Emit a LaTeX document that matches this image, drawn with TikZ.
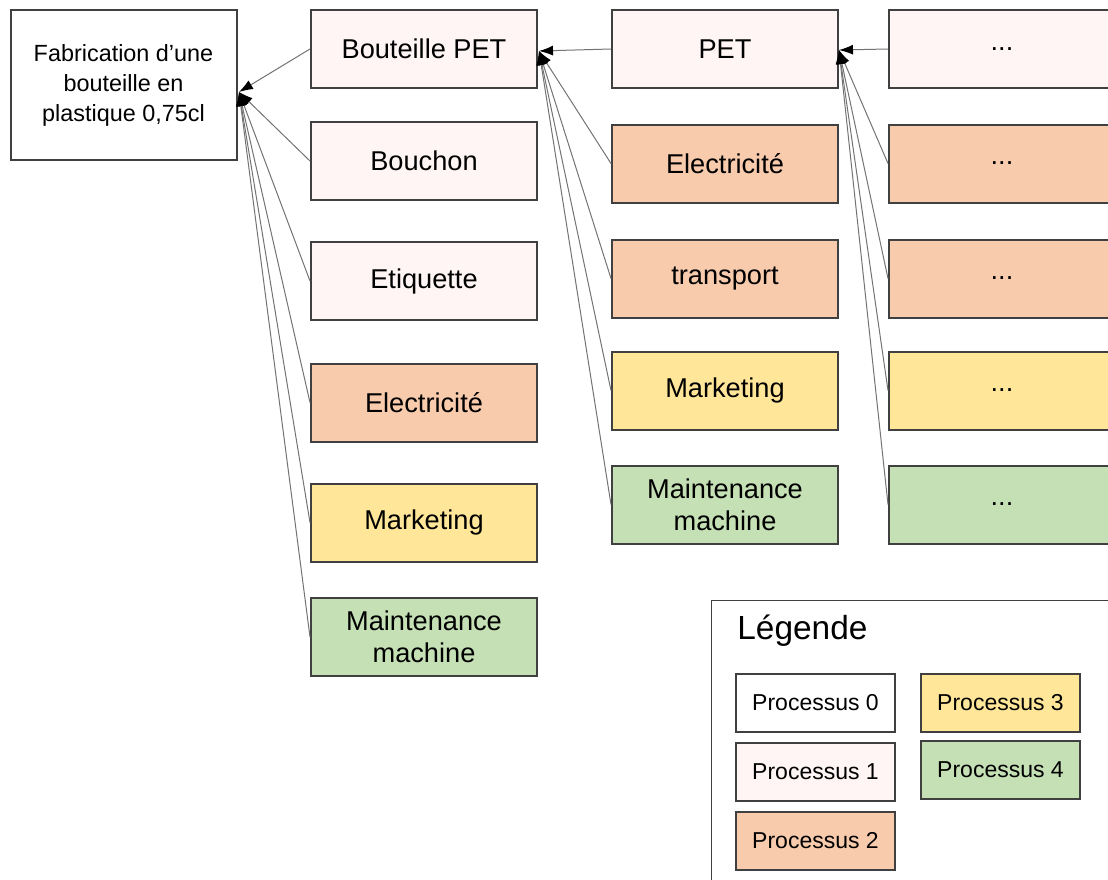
\documentclass[tikz,border=0pt]{standalone}
\usepackage{fontspec}
\setmainfont{Liberation Sans}
\usetikzlibrary{arrows.meta}
\definecolor{pun}{HTML}{FFF5F5}
\definecolor{pdeux}{HTML}{F8CBAD}
\definecolor{ptrois}{HTML}{FFE699}
\definecolor{pquatre}{HTML}{C5E0B4}
\tikzset{box/.style={draw=black!75,line width=1pt,minimum width=113pt,minimum height=39pt,align=center,inner sep=2pt,font=\fontsize{13.6}{16}\selectfont},
 p0/.style={box,fill=white},p1/.style={box,fill=pun},p2/.style={box,fill=pdeux},
 p3/.style={box,fill=ptrois},p4/.style={box,fill=pquatre},
 leg/.style={minimum width=79.5pt,minimum height=29pt,font=\fontsize{11.5}{14}\selectfont},
 link/.style={-{Latex[black,length=7pt,width=5pt]},draw=black!55,line width=0.5pt}}

\begin{document}
\begin{tikzpicture}[x=0.5pt,y=-0.5pt]
\useasboundingbox (0,0) rectangle (1108,879);
\clip (0,0) rectangle (1108,879);
% niveau 0
\node[p0,minimum height=75pt,font=\fontsize{11.7}{15}\selectfont](fab) at (123.5,85){Fabrication d’une\\bouteille en\\plastique 0,75cl};
\coordinate (in0) at (239,92);
% niveau 1
\node[p1](bpet) at (424,49){Bouteille PET};
\node[p1](bouch) at (424,161){Bouchon};
\node[p1](etiq) at (424,281){Etiquette};
\node[p2](elecA) at (424,402.5){Electricité};
\node[p3](markA) at (424,522.5){Marketing};
\node[p4](maintA) at (424,637){Maintenance\\machine};
\coordinate (in1) at (539,51);
% niveau 2
\node[p1](pet) at (725,49){PET};
\node[p2](elecB) at (725,163.5){Electricité};
\node[p2](transp) at (725,278.5){transport};
\node[p3](markB) at (725,390.5){Marketing};
\node[p4](maintB) at (725,504.5){Maintenance\\machine};
\coordinate (in2) at (839,50);
% niveau 3
\node[p1](sa) at (1002,49){...};
\node[p2](sb) at (1002,163.5){...};
\node[p2](sc) at (1002,278.5){...};
\node[p3](sd) at (1002,390.5){...};
\node[p4](se) at (1002,504.5){...};
% fleches
\foreach \n in {bpet,bouch,etiq,elecA,markA,maintA} \draw[link](\n.west)--(in0);
\foreach \n in {pet,elecB,transp,markB,maintB} \draw[link](\n.west)--(in1);
\foreach \n in {sa,sb,sc,sd,se} \draw[link](\n.west)--(in2);
% legende
\node[draw=black!75,line width=0.7pt,minimum width=220pt,minimum height=160pt,anchor=north west](cadre) at (711,600){};
\node[anchor=west,inner sep=0pt,font=\fontsize{16.7}{20}\selectfont](titre) at (737,631){Légende};
\node[p0,leg](lz) at (815.5,703){Processus 0};
\node[p1,leg](lu) at (815.5,772){Processus 1};
\node[p2,leg](ld) at (815.5,841){Processus 2};
\node[p3,leg](lt) at (1000.5,703){Processus 3};
\node[p4,leg](lq) at (1000.5,769.5){Processus 4};
\end{tikzpicture}
\end{document}
